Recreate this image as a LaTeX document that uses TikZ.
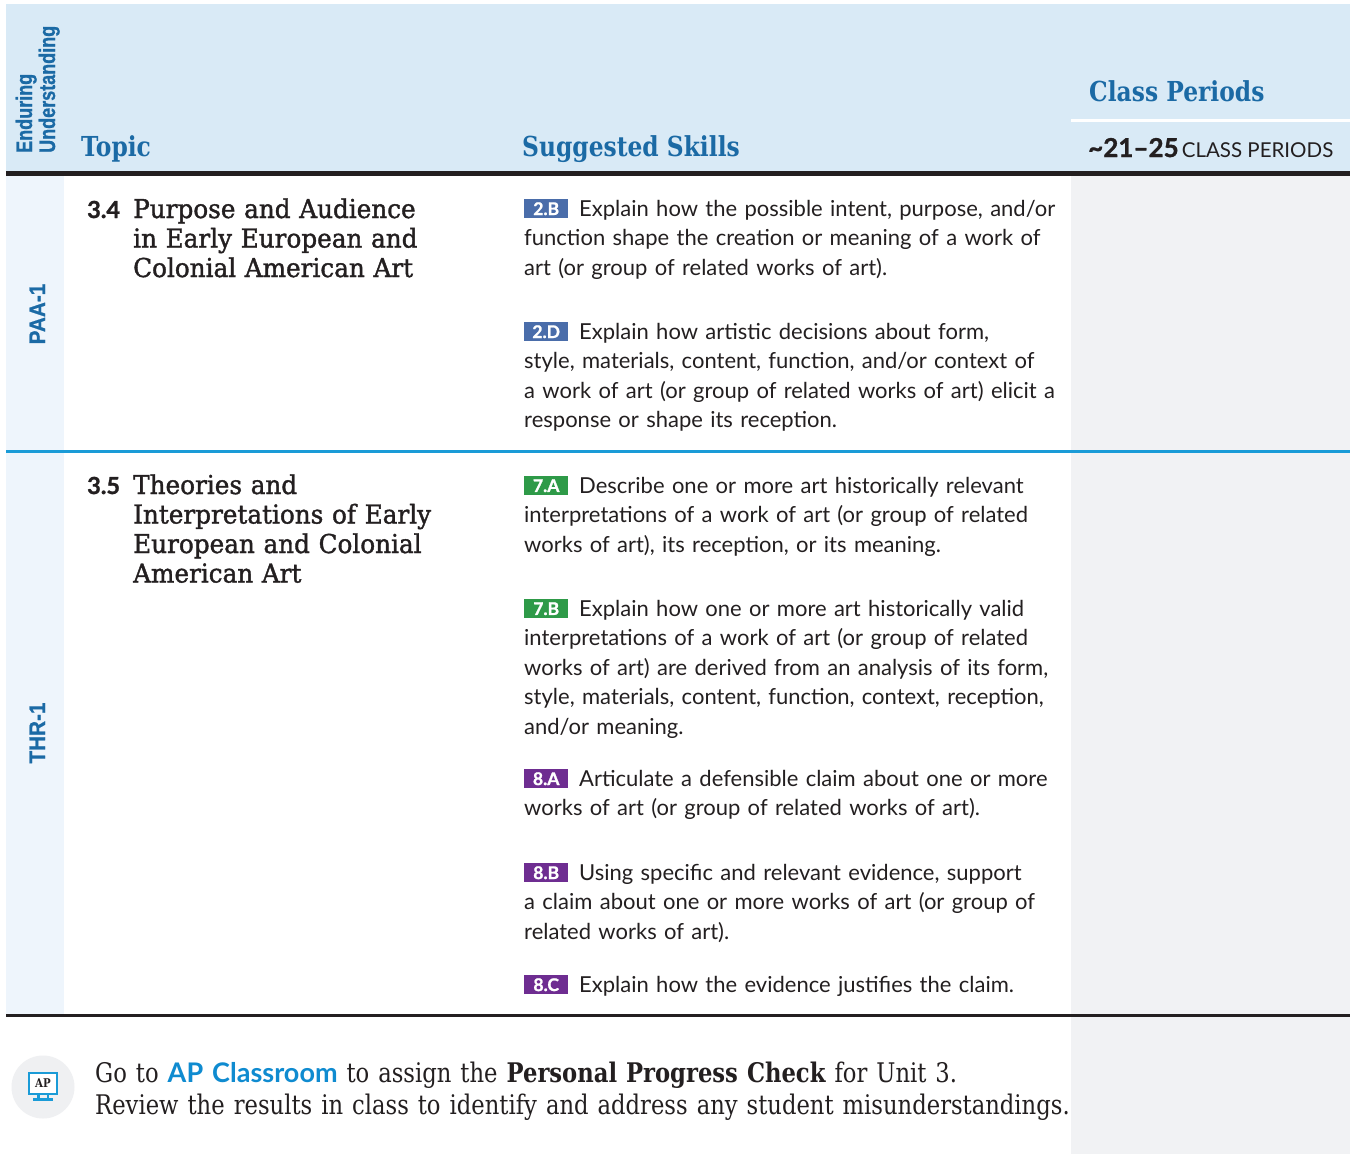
\documentclass[tikz,border=0pt]{standalone}
\usepackage{fontspec}
\setmainfont{DejaVu Serif}
\newfontfamily\slab[FakeStretch=0.85]{DejaVu Serif}
\newfontfamily\slabfoot[FakeStretch=0.84]{DejaVu Serif}
\newfontfamily\slabmed[FakeStretch=0.95,FakeBold=1.4]{DejaVu Serif}
\newfontfamily\body{Lato}
\newfontfamily\bodyheavy[FakeBold=1.2]{Lato}
\newfontfamily\condA[FakeStretch=0.8,FakeBold=0.8]{Liberation Sans}
\newfontfamily\condB[FakeStretch=0.92,FakeBold=0.8]{Liberation Sans}
\definecolor{hdrbg}{HTML}{D9EAF6}
\definecolor{eubg}{HTML}{EEF5FC}
\definecolor{cpbg}{HTML}{F1F2F4}
\definecolor{hdblue}{HTML}{1B6AA5}
\definecolor{lineblue}{HTML}{1A9BD7}
\definecolor{apblue}{HTML}{0F8BD0}
\definecolor{ink}{HTML}{231F20}
\definecolor{bdgblue}{HTML}{4A6DAA}
\definecolor{bdggreen}{HTML}{2E9A48}
\definecolor{bdgpurple}{HTML}{6E2D91}
\definecolor{iconbg}{HTML}{EFF0F2}
\tikzset{
  hd/.style={anchor=base west, inner sep=0pt, text=hdblue, font=\slab\bfseries\fontsize{27.5}{30}\selectfont},
  eulab/.style={rotate=90, inner sep=0pt, text=hdblue, font=\condA\bfseries\fontsize{22.5}{24}\selectfont},
  rowlab/.style={rotate=90, anchor=base, inner sep=0pt, text=hdblue, font=\condB\bfseries\fontsize{22.5}{24}\selectfont},
  topicnum/.style={anchor=base west, inner sep=0pt, text=ink, font=\bodyheavy\bfseries\fontsize{23.5}{29.5}\selectfont},
  topictitle/.style={anchor=base west, inner sep=0pt, text=ink, text width=420pt, align=left, font=\slabmed\fontsize{26}{29.5}\selectfont},
  badge/.style={anchor=north west, fill=#1, text=white, inner sep=0pt, minimum width=44pt, minimum height=19pt, font=\bodyheavy\bfseries\fontsize{17.5}{17.5}\selectfont},
  skill/.style={anchor=base west, inner sep=0pt, text=ink, text width=545pt, align=left, font=\body\fontsize{22}{29.5}\selectfont},
  foot/.style={anchor=base west, inner sep=0pt, text=ink, text width=1100pt, align=left, font=\slabfoot\fontsize{27}{32}\selectfont}
}
\begin{document}
\begin{tikzpicture}[x=1pt,y=-1pt]
\useasboundingbox (0,0) rectangle (1355,1154);
\fill[white] (0,0) rectangle (1355,1154);
% backgrounds
\fill[hdrbg] (6,4) rectangle (1350,171);
\fill[eubg] (6,176) rectangle (64,1014);
\fill[cpbg] (1071,176) rectangle (1350,1154);
\fill[white] (1071,118.5) rectangle (1350,121.5);
% rules
\fill[ink] (6,171) rectangle (1350,176);
\fill[lineblue] (6,449.5) rectangle (1350,452.5);
\fill[ink] (6,1013.5) rectangle (1350,1016.5);
% header
\node[eulab, anchor=base west] (eu1) at (32,153) {Enduring};
\node[eulab, anchor=base west] (eu2) at (55,153) {Understanding};
\node[hd] (topic) at (81,156) {Topic};
\node[hd] (skills) at (522,156) {Suggested Skills};
\node[hd] (cp) at (1089,101) {Class Periods};
\node[anchor=base west, inner sep=0pt, text=ink] (cpn) at (1088,157)
  {{\bodyheavy\bfseries\fontsize{26}{28}\selectfont \symbol{"7E}21–25} {\body\fontsize{20.5}{24}\selectfont CLASS PERIODS}};
% row labels
\node[rowlab] (paa) at (45,314) {PAA-1};
\node[rowlab] (thr) at (45,733) {THR-1};
% topic 3.4
\node[topicnum] (n34) at (87,218) {3.4};
\node[topictitle] (t34) at (133,218) {Purpose and Audience\\in Early European and\\Colonial American Art};
% topic 3.5
\node[topicnum] (n35) at (87,494) {3.5};
\node[topictitle] (t35) at (133,494) {Theories and\\Interpretations of Early\\European and Colonial\\American Art};
% skills
\node[badge=bdgblue] (b2B) at (524,199) {2.B};
\node[skill] (s2B) at (524,216) {\hspace*{55pt}Explain how the possible intent, purpose, and/or\\function shape the creation or meaning of a work of\\art (or group of related works of art).};
\node[badge=bdgblue] (b2D) at (524,322) {2.D};
\node[skill] (s2D) at (524,339) {\hspace*{55pt}Explain how artistic decisions about form,\\style, materials, content, function, and/or context of\\a work of art (or group of related works of art) elicit a\\response or shape its reception.};
\node[badge=bdggreen] (b7A) at (524,476) {7.A};
\node[skill] (s7A) at (524,493) {\hspace*{55pt}Describe one or more art historically relevant\\interpretations of a work of art (or group of related\\works of art), its reception, or its meaning.};
\node[badge=bdggreen] (b7B) at (524,599) {7.B};
\node[skill] (s7B) at (524,616) {\hspace*{55pt}Explain how one or more art historically valid\\interpretations of a work of art (or group of related\\works of art) are derived from an analysis of its form,\\style, materials, content, function, context, reception,\\and/or meaning.};
\node[badge=bdgpurple] (b8A) at (524,769) {8.A};
\node[skill] (s8A) at (524,786) {\hspace*{55pt}Articulate a defensible claim about one or more\\works of art (or group of related works of art).};
\node[badge=bdgpurple] (b8B) at (524,863) {8.B};
\node[skill] (s8B) at (524,880) {\hspace*{55pt}Using specific and relevant evidence, support\\a claim about one or more works of art (or group of\\related works of art).};
\node[badge=bdgpurple] (b8C) at (524,975) {8.C};
\node[skill] (s8C) at (524,992) {\hspace*{55pt}Explain how the evidence justifies the claim.};
% icon
\fill[iconbg] (43,1087) circle (31.5);
\fill[white] (29,1073) rectangle (57,1094);
\draw[lineblue, line width=2pt] (29,1073) rectangle (57,1094);
\node[inner sep=0pt, text=ink, font=\slab\bfseries\fontsize{12}{12}\selectfont] (apicon) at (43,1083.5) {AP};
\fill[lineblue] (37,1094) rectangle (39.5,1098);
\fill[lineblue] (46.5,1094) rectangle (49,1098);
\fill[lineblue] (33,1098) rectangle (53,1101);
% footer text
\node[foot] (foot) at (95,1082) {Go to {\body\bfseries\color{apblue}AP Classroom} to assign the {\bfseries Personal Progress Check} for Unit 3.\\Review the results in class to identify and address any student misunderstandings.};
\end{tikzpicture}
\end{document}
